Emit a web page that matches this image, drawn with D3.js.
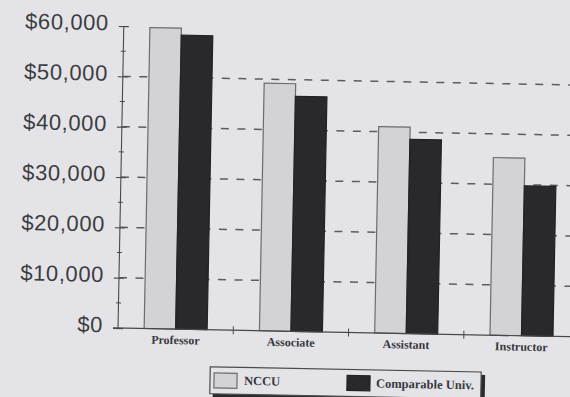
<!DOCTYPE html>
<html>
<head>
<meta charset="utf-8">
<script src="https://cdn.jsdelivr.net/npm/d3@7"></script>
<style>
  html, body { margin: 0; padding: 0; background: #e4e4e8; }
  svg { display: block; }
</style>
</head>
<body>
<svg id="chart" width="570" height="397"></svg>
<script>
const categories = ["Professor", "Associate", "Assistant", "Instructor"];
const seriesNames = ["NCCU", "Comparable Univ."];
const nccuValues = [59800, 49200, 41000, 35300];
const comparableValues = [58400, 46700, 38600, 29800];
const yTickValues = [0, 10000, 20000, 30000, 40000, 50000, 60000];
const yMinorTickValues = [5000, 15000, 25000, 35000, 45000, 55000];
const gridValues = [10000, 20000, 30000, 40000, 50000];

const colors = { "NCCU": "#d3d3d6", "Comparable Univ.": "#29292c" };
const strokes = { "NCCU": "#6c6c70", "Comparable Univ.": "#222224" };

const svg = d3.select("#chart");
svg.append("rect").attr("width", 570).attr("height", 397).attr("fill", "#e4e4e8");

const originX = 118, originY = 328;
const g = svg.append("g").attr("transform", `rotate(1.1, ${originX}, ${originY})`);

const y = d3.scaleLinear().domain([0, 60000]).range([originY, 26]);
const x = d3.scaleBand().domain(categories).range([originX, originX + 4 * 115.3]).padding(0);
const xs = d3.scaleBand().domain(seriesNames).range([0, x.bandwidth()]).paddingInner(0).paddingOuter(0.83);

// gridlines
g.append("g").selectAll("line").data(gridValues).join("line")
  .attr("x1", originX).attr("x2", 600)
  .attr("y1", d => y(d)).attr("y2", d => y(d))
  .attr("stroke", "#5c5c60").attr("stroke-width", 1.5)
  .attr("stroke-dasharray", "8,8.5");

// bars
const rows = categories.map((c, i) => ({ cat: c, vals: [
  { s: "NCCU", v: nccuValues[i] },
  { s: "Comparable Univ.", v: comparableValues[i] }
]}));
const grp = g.append("g").selectAll("g").data(rows).join("g")
  .attr("transform", d => `translate(${x(d.cat)},0)`);
grp.selectAll("rect").data(d => d.vals).join("rect")
  .attr("x", d => xs(d.s))
  .attr("width", xs.bandwidth())
  .attr("y", d => y(d.v))
  .attr("height", d => y(0) - y(d.v))
  .attr("fill", d => colors[d.s])
  .attr("stroke", d => strokes[d.s])
  .attr("stroke-width", 1.2);

// y axis
const yAxis = d3.axisLeft(y).tickValues(yTickValues).tickSize(5).tickPadding(12)
  .tickFormat(d => "$" + d3.format(",")(d));
const ya = g.append("g").attr("transform", `translate(${originX},0)`).call(yAxis);
ya.select(".domain").attr("stroke", "#48484c").attr("stroke-width", 1.1).attr("d", `M0,${originY}V${y(60000)}`);
ya.selectAll(".tick line").attr("x1", -5).attr("x2", 5).attr("stroke", "#48484c").attr("stroke-width", 1.1);
ya.selectAll(".tick text")
  .attr("font-family", "Liberation Sans, Arial, sans-serif")
  .attr("font-size", 22).attr("letter-spacing", "0.6px")
  .attr("fill", "#3c3c40").attr("dy", "0.32em").attr("y", -3).attr("x", -15);
ya.append("g").selectAll("line").data(yMinorTickValues).join("line")
  .attr("x1", -2.5).attr("x2", 2.5)
  .attr("y1", d => y(d)).attr("y2", d => y(d))
  .attr("stroke", "#48484c").attr("stroke-width", 1);

// x axis
const xAxis = d3.axisBottom(x).tickSize(0).tickPadding(6);
const xa = g.append("g").attr("transform", `translate(0,${originY})`).call(xAxis);
xa.select(".domain").attr("stroke", "#48484c").attr("stroke-width", 1.2).attr("d", `M${originX - 5},0H600`);
xa.selectAll(".tick text")
  .attr("font-family", "Liberation Serif, Times New Roman, serif")
  .attr("font-weight", "bold").attr("font-size", 12)
  .attr("fill", "#38383c").attr("dy", "0.75em");
xa.append("g").selectAll("line").data(categories.slice(1).concat(["__end"])).join("line")
  .attr("x1", (d, i) => x(categories[0]) + (i + 1) * x.step())
  .attr("x2", (d, i) => x(categories[0]) + (i + 1) * x.step())
  .attr("y1", -4).attr("y2", 4)
  .attr("stroke", "#48484c").attr("stroke-width", 1);

// legend
const lg = g.append("g").attr("transform", "translate(211,365)");
lg.append("rect").attr("x", 3).attr("y", 3).attr("width", 272).attr("height", 28).attr("fill", "#2a2a2c");
lg.append("rect").attr("x", 0).attr("y", 0).attr("width", 271).attr("height", 27)
  .attr("fill", "#e4e4e8").attr("stroke", "#4a4a4e").attr("stroke-width", 1.2);
const legendX = [4, 137];
const textX = [34, 166];
seriesNames.forEach((s, i) => {
  lg.append("rect").attr("x", legendX[i]).attr("y", 6).attr("width", 23).attr("height", 15)
    .attr("fill", colors[s]).attr("stroke", strokes[s]).attr("stroke-width", 1.2);
  lg.append("text").attr("x", textX[i]).attr("y", 17.5).text(s)
    .attr("font-family", "Liberation Serif, Times New Roman, serif")
    .attr("font-size", 12.5).attr("font-weight", "bold")
    .attr("fill", "#38383c");
});
</script>
</body>
</html>
